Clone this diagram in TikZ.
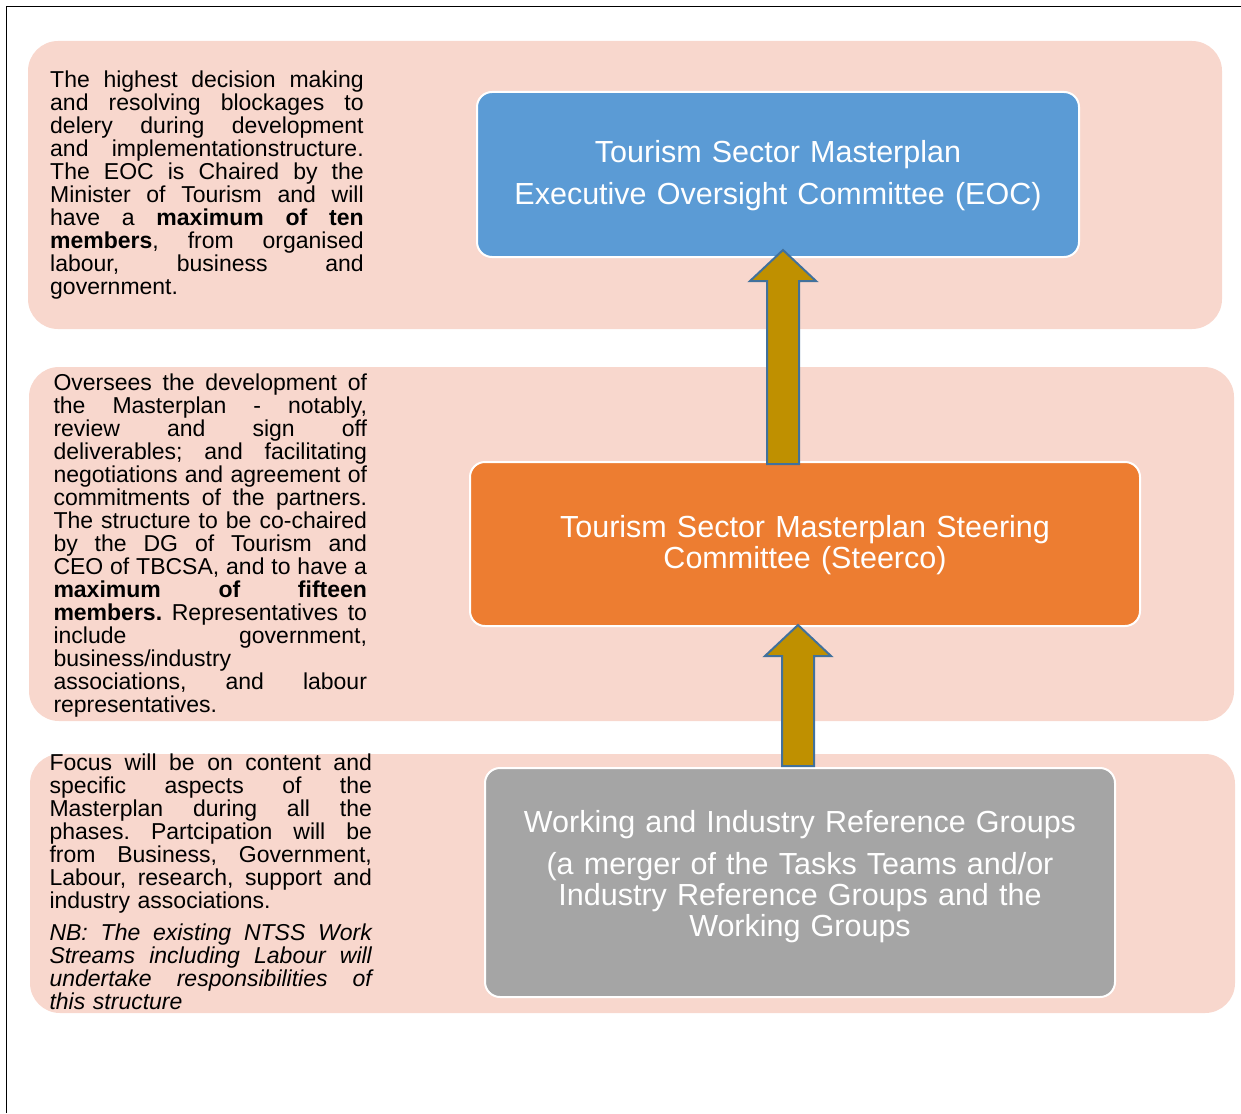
\documentclass[tikz,border=0pt]{standalone}
\usepackage{fontspec}
\setmainfont{Liberation Sans}
\usetikzlibrary{calc}
\definecolor{panelpink}{HTML}{F8D7CD}
\definecolor{eocblue}{HTML}{5B9BD5}
\definecolor{steerorange}{HTML}{ED7D31}
\definecolor{groupgray}{HTML}{A5A5A5}
\definecolor{arrowgold}{HTML}{BF9000}
\definecolor{arrowblue}{HTML}{41719C}
\newcommand\jline[1]{{\frenchspacing\spaceskip=0pt\relax\xspaceskip=0pt\relax\makebox[\linewidth][s]{#1}}\\}
\newcommand\topstrut{\rule{0pt}{30pt}}
\newcommand\botstrut[1]{\rule[-#1]{0pt}{#1}}
\newcommand\upblockarrow[2]{%
  \draw[blockarrow] ($(#1)+(-16,0)$) -- ($(#2)+(-16,31)$) -- ($(#2)+(-33,31)$) -- (#2)
    -- ($(#2)+(33,31)$) -- ($(#2)+(16,31)$) -- ($(#1)+(16,0)$) -- cycle;}
\tikzset{
  panel/.style={fill=panelpink, rounded corners=30pt},
  box/.style={draw=white, line width=2pt, rounded corners=15pt, text=white, align=center,
    font=\fontsize{30.5}{31}\selectfont, inner sep=0pt},
  sidetext/.style={anchor=base west, inner sep=0pt,
    font=\fontsize{23}{23}\selectfont},
  blockarrow/.style={fill=arrowgold, draw=arrowblue, line width=2pt, line join=miter},
  frameline/.style={line width=1.5pt, draw=black}
}
\begin{document}
\begin{tikzpicture}[x=1pt,y=-1pt]
\useasboundingbox (0,0) rectangle (1241,1113);
\draw[frameline] (6.5,1113) -- (6.5,6.3) -- (1241,6.3);
% background panels
\fill[panel] (28,41) rectangle (1222,329);
\fill[panel] (29,367) rectangle (1234,721);
\fill[panel] (30,754) rectangle (1235,1013);
% boxes
\node[box, fill=eocblue, minimum width=602pt, minimum height=165pt, text width=590pt] (eoc) at (778,174.5)
  {\topstrut Tourism Sector Masterplan\\[11pt]Executive Oversight Committee (EOC)\botstrut{13pt}};
\node[box, fill=steerorange, minimum width=670pt, minimum height=164pt, text width=650pt] (steer) at (805,544)
  {\topstrut Tourism Sector Masterplan Steering\\Committee (Steerco)\botstrut{13pt}};
\node[box, fill=groupgray, minimum width=630pt, minimum height=229pt, text width=610pt] (groups) at (800,882.5)
  {\topstrut Working and Industry Reference Groups\\[11pt](a merger of the Tasks Teams and/or\\Industry Reference Groups and the\\Working Groups\botstrut{27pt}};
% arrows
\coordinate (t1) at ([xshift=5pt,yshift=8pt]eoc.south);
\coordinate (b1) at ([xshift=-22pt,yshift=-3pt]steer.north);
\coordinate (t2) at ([xshift=-7pt,yshift=2pt]steer.south);
\coordinate (b2) at ([xshift=-2pt,yshift=1pt]groups.north);
\upblockarrow{b1}{t1}
\upblockarrow{b2}{t2}
% side texts
\node[sidetext, text width=313.5pt] (eoctext) at (50,88) {%
\jline{The highest decision making}
\jline{and resolving blockages to}
\jline{delery during development}
\jline{and implementationstructure.}
\jline{The EOC is Chaired by the}
\jline{Minister of Tourism and will}
\jline{have a \textbf{maximum of ten}}
\jline{\textbf{members}, from organised}
\jline{labour, business and}
government.};
\node[sidetext, text width=313.5pt] (steertext) at (53.3,390) {%
\jline{Oversees the development of}
\jline{the Masterplan - notably,}
\jline{review and sign off}
\jline{deliverables; and facilitating}
\jline{negotiations and agreement of}
\jline{commitments of the partners.}
\jline{The structure to be co-chaired}
\jline{by the DG of Tourism and}
\jline{CEO of TBCSA, and to have a}
\jline{\textbf{maximum of fifteen}}
\jline{\textbf{members.} Representatives to}
\jline{include government,}
business/industry\\
\jline{associations, and labour}
representatives.};
\node[sidetext, text width=322.4pt] (groupstext) at (49.3,770) {%
\jline{Focus will be on content and}
\jline{specific aspects of the}
\jline{Masterplan during all the}
\jline{phases. Partcipation will be}
\jline{from Business, Government,}
\jline{Labour, research, support and}
industry associations.\\[9pt]
\itshape
\jline{NB: The existing NTSS Work}
\jline{Streams including Labour will}
\jline{undertake responsibilities of}
this structure};
\end{tikzpicture}
\end{document}
